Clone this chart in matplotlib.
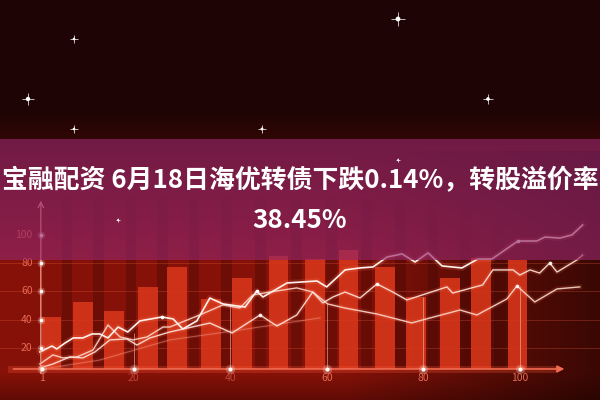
import numpy as np
import matplotlib
matplotlib.use("Agg")
import matplotlib.pyplot as plt
from matplotlib.patches import Rectangle

plt.rcParams['font.family'] = ['Noto Sans CJK SC', 'DejaVu Sans']


# ── 1. Data ──────────────────────────────────────────────────────────────────

title_1 = "宝融配资 6月18日海优转债下跌0.14%，转股溢价率"
title_2 = "38.45%"

bar_x = [3, 9.5, 16, 23, 29, 36, 42.5, 50, 57.5, 64.5, 72, 78.5, 85.5, 92, 99.5]
bar_top = [42, 52.5, 46, 63, 77, 55, 69.5, 85, 83, 89, 77, 56, 69.5, 83.5, 82]

l1_x = [0.6, 3.1, 4.1, 5.8, 7.5, 9.5, 11.4, 13.0, 14.7, 16.8, 18.8, 21.3, 25.9,
        28.2, 30.2, 33.1, 35.8, 38.5, 43.1, 45.5, 46.8, 51.8, 58.0, 60.0, 63.8,
        66.9, 69.6, 72.5, 75.6, 78.3, 81.0, 83.9, 88.0, 91.3, 94.2, 99.6, 103.5,
        105.2, 108.3, 110.8, 113.0]
l1_y = [17.3, 21.5, 19.4, 23.6, 27.2, 27.2, 30.0, 30.0, 27.2, 34.9, 31.4, 39.2,
        42.0, 40.6, 33.5, 39.2, 55.4, 51.2, 49.0, 60.3, 56.1, 66.0, 67.4, 63.2,
        75.2, 76.6, 77.3, 84.3, 86.5, 80.8, 87.2, 78.0, 76.6, 82.9, 82.9, 95.6,
        95.6, 98.4, 97.7, 99.9, 106.9]
l1_dots = [12, 19, 35]

l2_x = [0.6, 3.3, 6.8, 9.5, 12.0, 15.1, 18.6, 20.7, 23.4, 27.5, 35.8, 40.4,
        46.2, 49.7, 53.8, 57.1, 59.2, 61.3, 63.8, 66.9, 70.4, 73.7, 76.6, 84.9,
        86.1, 92.3, 94.4, 98.6, 100.0, 102.1, 104.1, 106.2, 107.7, 111.8, 113.0]
l2_y = [6.0, 8.8, 13.8, 13.1, 17.3, 25.8, 26.5, 22.2, 27.2, 31.4, 37.7, 30.7,
        43.4, 35.6, 43.4, 59.6, 51.9, 56.1, 59.6, 55.4, 65.3, 59.6, 54.0, 63.2,
        58.9, 64.6, 75.2, 75.2, 71.6, 75.2, 73.0, 80.1, 73.7, 82.2, 85.7]
l2_dots = [12, 20, 31]

l3_x = [0.6, 3.3, 5.4, 8.3, 11.6, 14.7, 17.2, 19.9, 22.8, 26.1, 27.5, 33.7,
        38.5, 42.0, 44.7, 48.2, 53.8, 57.1, 60.2, 63.8, 70.4, 77.6, 81.4, 87.6,
        91.1, 97.3, 99.4, 103.1, 107.7, 112.4]
l3_y = [8.8, 15.2, 13.1, 13.8, 18.7, 36.3, 27.9, 25.8, 27.9, 34.9, 34.9, 43.4,
        50.5, 48.3, 57.5, 59.6, 62.5, 59.6, 51.2, 48.3, 44.1, 37.8, 41.3, 46.9,
        43.4, 54.7, 63.9, 52.6, 61.8, 63.2]
l3_dots = [26]

l4_x = [0.6, 13.0, 27.5, 42.0, 58.6]
l4_y = [5.0, 11.6, 25.8, 32.8, 41.3]

y_ticks = [20, 40, 60, 80, 100]
x_ticks = [1, 20, 40, 60, 80, 100]
drop_x = [20, 40, 60, 80, 100]
drop_top = [31, 52, 52, 56, 64]
baseline = 5.3


# ── 2. Figure, photo-like background ─────────────────────────────────────────

fig = plt.figure(figsize=(6, 4), dpi=100)
ax = fig.add_axes([0, 0, 1, 1])
x0, x1 = -7.66, 116.6
y0, y1 = -16.6, 265.7
ax.set_xlim(x0, x1)
ax.set_ylim(y0, y1)
ax.axis('off')

H, W = 400, 600
rows = np.arange(H)[:, None]
cols = np.arange(W)[None, :]
dark = np.array([30, 4, 4]) / 255
red = np.array([128, 17, 8]) / 255
low = np.array([92, 11, 5]) / 255
t = np.clip((rows - 110) / 150, 0, 1)[..., None]
bg = dark * (1 - t) + red * t
under = np.clip((rows - 372) / 28, 0, 1)[..., None]
bg = bg * (1 - under) + low * under
fade = 1.05 - 0.6 * np.clip((cols - 340) / 260, 0, 1)
fade = np.where(rows > 150, fade, 1.0)[..., None]
bg = np.clip(bg * fade, 0, 1)
bg = np.broadcast_to(bg, (H, W, 3))
ax.imshow(bg, extent=[x0, x1, y0, y1], aspect='auto', zorder=0)

# darker stripes between the bars
mids = [(a + b) / 2 for a, b in zip(bar_x[:-1], bar_x[1:])]
ax.bar(mids, 120, width=2.2, bottom=baseline, color='#3e0604',
       alpha=0.35, zorder=1)

# horizontal grid
for v in y_ticks[:-1]:
    ax.axhline(v, color='#e05a40', lw=0.6, alpha=0.35, zorder=1.5)

# bars
ax.bar(bar_x, [h - baseline for h in bar_top], width=4.1, bottom=baseline,
       color='#d6361a', alpha=0.9, zorder=2)

# drop lines from the x ticks
ax.vlines(drop_x, baseline, drop_top, color='#ffb0a0', lw=0.7,
          alpha=0.6, zorder=2.5)

# ── 3. Lines with glow ───────────────────────────────────────────────────────

def glow_line(xs, ys, color, lw, alpha, dots=()):
    ax.plot(xs, ys, color='#ff7a5a', lw=lw * 3.5, alpha=0.18 * alpha,
            solid_joinstyle='round', zorder=3)
    ax.plot(xs, ys, color=color, lw=lw, alpha=alpha,
            solid_joinstyle='round', zorder=3.2)
    if dots:
        ax.scatter([xs[i] for i in dots], [ys[i] for i in dots], s=7,
                   color='white', alpha=alpha, lw=0, zorder=3.4)

glow_line(l4_x, l4_y, '#f4a090', 0.8, 0.45)
glow_line(l3_x, l3_y, '#fbd8cc', 1.0, 0.9, l3_dots)
glow_line(l2_x, l2_y, '#fde4dc', 1.0, 0.9, l2_dots)
glow_line(l1_x, l1_y, '#fff2ec', 1.2, 1.0, l1_dots)

# ── 4. Axes drawn like in the photo ──────────────────────────────────────────

ax.plot([x0 + 2.2, 107], [baseline, baseline], color='#ff5a3a', lw=5,
        alpha=0.25, zorder=3.5)
ax.annotate('', xy=(109.8, baseline), xytext=(x0 + 2.2, baseline),
            arrowprops=dict(arrowstyle='-|>', color='#f06a50', lw=1.2,
                            mutation_scale=10), zorder=3.6)
ax.annotate('', xy=(0.8, 126), xytext=(0.8, baseline - 5),
            arrowprops=dict(arrowstyle='->', color='#f4a090', lw=0.9,
                            mutation_scale=10), zorder=3.6)

ax.scatter([0.8] * len(y_ticks), y_ticks, s=30, color='#ffd0c0',
           alpha=0.3, lw=0, zorder=3.7)
ax.scatter([0.8] * len(y_ticks), y_ticks, s=7, color='white', lw=0, zorder=3.8)
ax.scatter(x_ticks, [baseline] * len(x_ticks), s=45, color='#ffd0c0',
           alpha=0.3, lw=0, zorder=3.7)
ax.scatter(x_ticks, [baseline] * len(x_ticks), s=9, color='white', lw=0,
           zorder=3.8)

for v in y_ticks:
    ax.text(-0.9, v, str(v), ha='right', va='center', fontsize=7.5,
            color='#e86a55', zorder=3.9)
for v in x_ticks:
    ax.text(v, -1.3, str(v), ha='center', va='center', fontsize=7.5,
            color='#e86a55', alpha=0.6 if v in (20, 40) else 1.0, zorder=3.9)

# ── 5. Title band ────────────────────────────────────────────────────────────

ax.add_patch(Rectangle((0, 0.35), 1, 0.3025, transform=ax.transAxes,
                       facecolor=(147 / 255, 38 / 255, 105 / 255),
                       alpha=0.65, lw=0, zorder=5))

# small sparkles in the dark top
sparkle_px = [(28, 99), (74, 39), (398, 19), (488, 99), (74, 129), (262, 129),
              (118, 220), (398, 160)]
sparkle_s = [50, 18, 60, 35, 18, 22, 8, 8]
sx = [p[0] / 600 for p in sparkle_px]
sy = [1 - p[1] / 400 for p in sparkle_px]
ax.scatter(sx, sy, s=[s * 1.5 for s in sparkle_s], marker='+', color='white',
           lw=0.6, alpha=0.85, transform=ax.transAxes, zorder=6)
ax.scatter(sx, sy, s=[s * 0.2 for s in sparkle_s], color='white', lw=0,
           transform=ax.transAxes, zorder=6)

ax.text(0.5, 1 - 181 / 400, title_1, transform=ax.transAxes, ha='center',
        va='center', color='white', fontsize=18.6, fontweight='bold', zorder=10)
ax.text(0.5, 1 - 221 / 400, title_2, transform=ax.transAxes, ha='center',
        va='center', color='white', fontsize=18.6, fontweight='bold', zorder=10)

fig.savefig('out.png', dpi=100)
